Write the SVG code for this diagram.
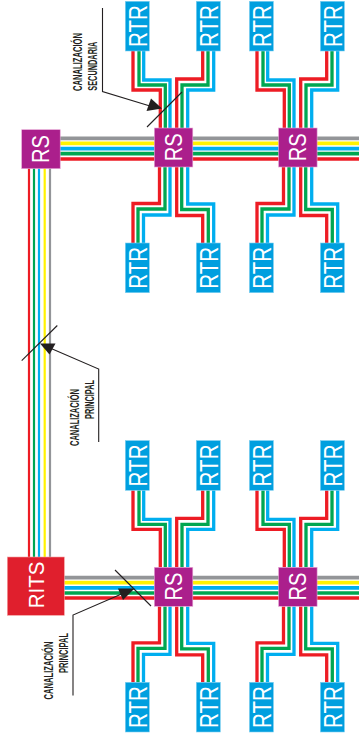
<svg xmlns="http://www.w3.org/2000/svg" width="359" height="738" viewBox="0 0 359 738">
<style>
.w{fill:none;stroke-width:3.3;stroke-linejoin:miter}
.u{fill:none;stroke-width:3.7}
.v{fill:none;stroke-width:2.2}
.r{stroke:#ed1c24}.g{stroke:#00a651}.b{stroke:#00aeef}.y{stroke:#fff200}.k{stroke:#939598}
.rsb{fill:#ab1f8c;stroke:#e6a8d6;stroke-width:.6}
.rtb{fill:#009fdf;stroke:#7fd0f0;stroke-width:.6}
.rib{fill:#e01f2d;stroke:#f4a0a0;stroke-width:.6}
.t{font-family:"Liberation Sans",Arial,sans-serif;fill:#fff;text-anchor:middle}
.lab{font-family:"Liberation Sans Narrow","Liberation Sans",sans-serif;font-weight:bold;font-size:12.5px;fill:#231f20;text-anchor:middle}
.a{fill:none;stroke:#231f20;stroke-width:1.1}
.h{fill:#231f20}
</style>
<defs>
<g id="branches">
<path class="w r" d="M133 51V90H160.3V128"/>
<path class="w g" d="M139 51V85H165.3V128"/>
<path class="w b" d="M143.7 51V80H170V128"/>
<path class="w r" d="M202.7 51V79H176.7V128"/>
<path class="w g" d="M208 51V85H182V128"/>
<path class="w b" d="M213.7 51V90H187.7V128"/>
<path class="w r" d="M133 243V203.5H159.5V167"/>
<path class="w g" d="M138 243V209H165V167"/>
<path class="w b" d="M143.5 243V215H170V167"/>
<path class="w r" d="M202.7 243V215.5H176.7V167"/>
<path class="w g" d="M208.3 243V209.5H181.7V167"/>
<path class="w b" d="M213.7 243V204H187.7V167"/>
</g>
<g id="rtrbox"><rect class="rtb" x="0" y="0" width="24" height="49.7"/><text class="t" font-size="25" textLength="42" lengthAdjust="spacingAndGlyphs" transform="translate(21.4 24.8) rotate(-90)">RTR</text></g>
<g id="rsbox"><rect class="rsb" x="0" y="0" width="38.5" height="39"/><text class="t" font-size="23" textLength="28" lengthAdjust="spacingAndGlyphs" transform="translate(27.4 19.3) rotate(-90)">RS</text></g>
</defs>
<g id="connectors">
<use href="#branches"/>
<use href="#branches" x="124"/>
<use href="#branches" y="439.3"/>
<use href="#branches" x="124" y="439.3"/>
<g id="bus-top">
<path class="u k" d="M60 138.3H359"/><path class="u y" d="M60 143.4H359"/><path class="u b" d="M60 148.6H359"/><path class="u g" d="M60 153.7H359"/><path class="u r" d="M60 159H359"/>
</g>
<g id="bus-bottom">
<path class="u k" d="M64 577.7H359"/><path class="u y" d="M64 582.7H359"/><path class="u b" d="M64 587.8H359"/><path class="u g" d="M64 593H359"/><path class="u r" d="M64 598H359"/>
</g>
<g id="riser">
<path class="v r" d="M29 168V557"/><path class="v g" d="M34 168V557"/><path class="v b" d="M39 168V557"/><path class="v y" d="M44.7 168V557"/><path class="v k" d="M50 168V557"/>
</g>
</g>
<g id="rs-0"><use href="#rsbox" x="21.7" y="129.7"/></g>
<g id="rs-1"><use href="#rsbox" x="154.3" y="128"/></g>
<g id="rs-2"><use href="#rsbox" x="278.6" y="128"/></g>
<g id="rs-3"><use href="#rsbox" x="154.3" y="567.3"/></g>
<g id="rs-4"><use href="#rsbox" x="278.6" y="567.3"/></g>
<g id="rits"><rect class="rib" x="7.3" y="557" width="57" height="58.3"/><text class="t" font-size="22" textLength="46.7" lengthAdjust="spacingAndGlyphs" transform="translate(44 585) rotate(-90)">RITS</text></g>
<g id="rtr-1"><use href="#rtrbox" x="125.3" y="1.3"/></g>
<g id="rtr-2"><use href="#rtrbox" x="196.3" y="1.3"/></g>
<g id="rtr-3"><use href="#rtrbox" x="249.4" y="1.3"/></g>
<g id="rtr-4"><use href="#rtrbox" x="320.4" y="1.3"/></g>
<g id="rtr-5"><use href="#rtrbox" x="125.3" y="243"/></g>
<g id="rtr-6"><use href="#rtrbox" x="196.3" y="243"/></g>
<g id="rtr-7"><use href="#rtrbox" x="249.4" y="243"/></g>
<g id="rtr-8"><use href="#rtrbox" x="320.4" y="243"/></g>
<g id="rtr-9"><use href="#rtrbox" x="125.3" y="440.6"/></g>
<g id="rtr-10"><use href="#rtrbox" x="196.3" y="440.6"/></g>
<g id="rtr-11"><use href="#rtrbox" x="249.4" y="440.6"/></g>
<g id="rtr-12"><use href="#rtrbox" x="320.4" y="440.6"/></g>
<g id="rtr-13"><use href="#rtrbox" x="125.3" y="682.3"/></g>
<g id="rtr-14"><use href="#rtrbox" x="196.3" y="682.3"/></g>
<g id="rtr-15"><use href="#rtrbox" x="249.4" y="682.3"/></g>
<g id="rtr-16"><use href="#rtrbox" x="320.4" y="682.3"/></g>
<g id="note-sec">
<path class="a" d="M102.5 8V91.5L150 106"/><path class="a" d="M147 127L182 92"/>
<path class="h" d="M162 108.5L146.5 111 151 98.5Z"/>
<text class="lab" textLength="58" lengthAdjust="spacingAndGlyphs" transform="translate(81.7 62) rotate(-90)">CANALIZACIÓN</text>
<text class="lab" textLength="49" lengthAdjust="spacingAndGlyphs" transform="translate(97 66.2) rotate(-90)">SECUNDARIA</text>
</g>
<g id="note-main-mid">
<path class="a" d="M98.7 442V369L50 348"/><path class="a" d="M21.7 360.7L57.3 325.5"/>
<path class="h" d="M40 343.5L55.5 343.5 49.5 354.5Z"/>
<text class="lab" textLength="57" lengthAdjust="spacingAndGlyphs" transform="translate(79 417.5) rotate(-90)">CANALIZACIÓN</text>
<text class="lab" textLength="39" lengthAdjust="spacingAndGlyphs" transform="translate(94.3 399.5) rotate(-90)">PRINCIPAL</text>
</g>
<g id="note-main-bot">
<path class="a" d="M73 695.5V615L125 592.5"/><path class="a" d="M115 570L151 606"/>
<path class="h" d="M134.5 588.5L123 600 118 588.5Z"/>
<text class="lab" textLength="58" lengthAdjust="spacingAndGlyphs" transform="translate(52.5 670.5) rotate(-90)">CANALIZACIÓN</text>
<text class="lab" textLength="40" lengthAdjust="spacingAndGlyphs" transform="translate(68 653) rotate(-90)">PRINCIPAL</text>
</g>
</svg>
